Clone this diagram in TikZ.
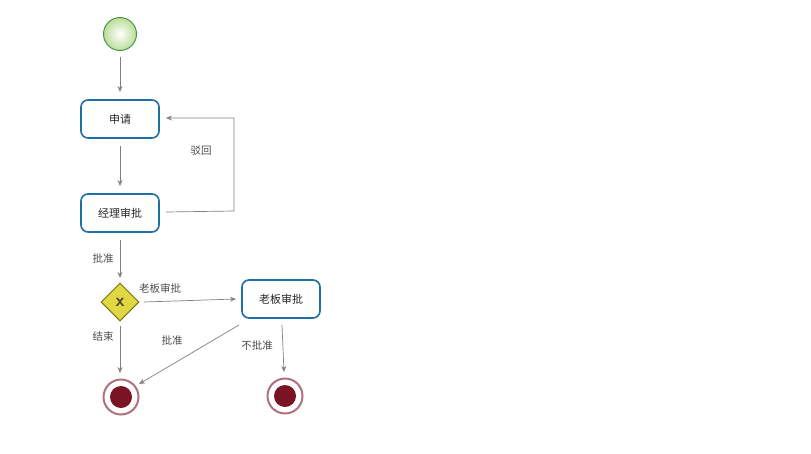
\documentclass[tikz,border=0pt]{standalone}
\usepackage{fontspec}
\setmainfont{Noto Sans CJK SC}
\usetikzlibrary{arrows.meta,shapes.geometric}
\definecolor{taskb}{HTML}{1F6EA6}
\definecolor{arr}{HTML}{808080}
\definecolor{endr}{HTML}{7A1324}
\begin{document}
\begin{tikzpicture}[x=1pt,y=-1pt,
 task/.style={draw=taskb,line width=1.6pt,rounded corners=7pt,fill=white,minimum width=78pt,minimum height=38pt,font=\fontsize{11}{12}\selectfont,text=black!85},
 startev/.style={circle,draw=green!40!black!70,line width=1pt,minimum size=33pt,inner color=white,outer color=green!35!olive!40},
 endev/.style={circle,draw=endr,line width=2.6pt,minimum size=32pt,fill=endr,double=white,double distance=0pt},
 flow/.style={draw=arr,line width=0.7pt,-{Stealth[length=6pt,width=5pt]}},
 lab/.style={font=\fontsize{10.5}{12}\selectfont,text=black!70}]
\useasboundingbox (0,0) rectangle (811,453);
\node[startev] (s) at (120,34) {};
\node[task] (a) at (120,119) {申请};
\node[task] (m) at (120,213) {经理审批};
\node[diamond,draw=olive!80!black,line width=1pt,fill=yellow!60!olive!70,minimum size=38pt,inner sep=0] (g) at (120,302) {};
\node[font=\bfseries\fontsize{18}{18}\selectfont,text=olive!40!black] at (g) {\textsf{x}};
\node[task] (b) at (281,299) {老板审批};
\node[circle,draw=endr!60,line width=2pt,minimum size=35pt,fill=white] (e1) at (121,397) {};
\node[circle,fill=endr,minimum size=22pt] at (e1) {};
\node[circle,draw=endr!60,line width=2pt,minimum size=35pt,fill=white] (e2) at (285,396) {};
\node[circle,fill=endr,minimum size=22pt] at (e2) {};
\coordinate (c1) at (234,211);
\coordinate (c2) at (234,118);
\draw[flow] (120,57) -- (120,92);
\draw[flow] (120,146) -- (120,186);
\draw[flow] (166,212) -- (c1) -- (c2) -- (166,118);
\node[lab] at (201,151) {驳回};
\draw[flow] (120,240) -- (120,278);
\node[lab] at (103,259) {批准};
\draw[flow] (144,302) -- (236,299);
\node[lab] at (160,288) {老板审批};
\draw[flow] (120,326) -- (120,373);
\node[lab] at (103,336) {结束};
\draw[flow] (239,325) -- (139,384);
\node[lab] at (172,341) {批准};
\draw[flow] (282,325) -- (284,372);
\node[lab] at (257,346) {不批准};
\end{tikzpicture}
\end{document}
